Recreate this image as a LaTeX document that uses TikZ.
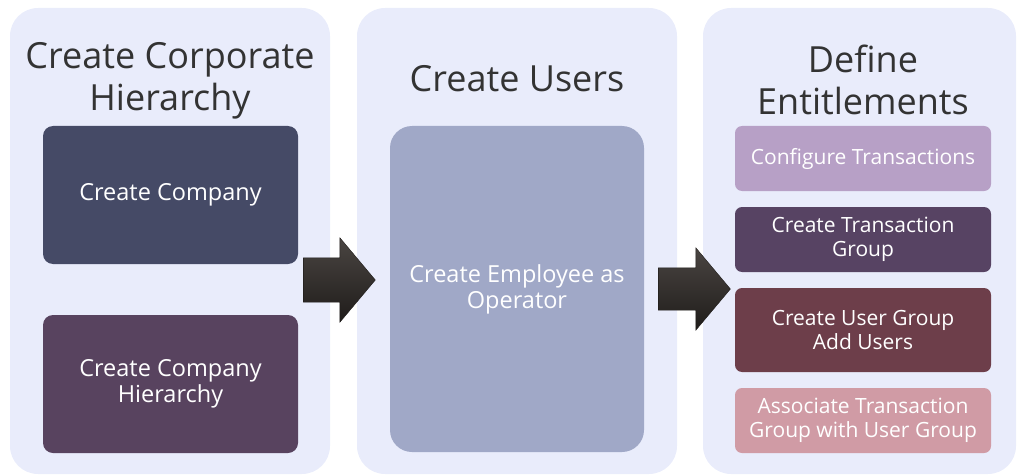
\documentclass[tikz,border=0pt]{standalone}
\usepackage{fontspec}
\setmainfont{Open Sans}
\usetikzlibrary{shapes.arrows}
\definecolor{panelbg}{HTML}{E9ECFB}
\definecolor{titlec}{HTML}{333333}
\definecolor{cA}{HTML}{454A66}
\definecolor{cB}{HTML}{58435F}
\definecolor{cC}{HTML}{A0A8C7}
\definecolor{cD}{HTML}{B7A0C6}
\definecolor{cE}{HTML}{574363}
\definecolor{cF}{HTML}{6D3E4A}
\definecolor{cG}{HTML}{D09BA5}
\definecolor{arrtop}{HTML}{4A4542}
\definecolor{arrbot}{HTML}{1F1C1A}
\tikzset{
  panel/.style={fill=panelbg, rounded corners=28pt, draw=none},
  title/.style={text=titlec, font=\fontsize{36}{42}\selectfont, align=center},
  bigbox/.style={rounded corners=10pt, text=white, align=center, font=\fontsize{23.5}{26}\selectfont},
  smallbox/.style={rounded corners=7pt, text=white, align=center, font=\fontsize{21}{24}\selectfont},
  blockarrow/.style={single arrow, draw=arrbot, line width=0.4pt, top color=arrtop, bottom color=arrbot,
     inner xsep=0pt, inner ysep=22pt, single arrow head extend=20pt, single arrow tip angle=100, minimum height=72pt}
}
\begin{document}
\begin{tikzpicture}[x=1pt,y=-1pt]
\useasboundingbox (0,0) rectangle (1019,476);
% panels
\fill[panel] (10,8) rectangle (330,474);
\fill[panel] (357,8) rectangle (677,474);
\fill[panel] (703,8) rectangle (1016,474);
% titles
\node[title] (t1) at (170,81) {Create Corporate\\Hierarchy};
\node[title] (t2) at (517,79) {Create Users};
\node[title] (t3) at (863,80) {Define\\Entitlements};
% panel 1 boxes
\fill[cA, rounded corners=10pt] (43,126) rectangle (298,264);
\node[bigbox] (b1) at (170.5,195) {Create Company};
\fill[cB, rounded corners=10pt] (43,315) rectangle (298,453);
\node[bigbox] (b2) at (170.5,384) {Create Company\\Hierarchy};
% panel 2 box
\fill[cC, rounded corners=22pt] (390,126) rectangle (644,452);
\node[bigbox] (b3) at (517,289) {Create Employee as\\Operator};
% panel 3 boxes
\fill[cD, rounded corners=7pt] (735,126) rectangle (991,191);
\node[smallbox] (c1) at (863,158.5) {Configure Transactions};
\fill[cE, rounded corners=7pt] (735,207) rectangle (991,272);
\node[smallbox] (c2) at (863,239.5) {Create Transaction\\Group};
\fill[cF, rounded corners=7pt] (735,288) rectangle (991,372);
\node[smallbox] (c3) at (863,330) {Create User Group\\Add Users};
\fill[cG, rounded corners=7pt] (735,388) rectangle (991,453);
\node[smallbox] (c4) at (863,420.5) {Associate Transaction\\Group with User Group};
% block arrows
\node[blockarrow] (a1) at (330,280) {};
\node[blockarrow, inner ysep=21pt] (a2) at (685.5,289) {};
\end{tikzpicture}
\end{document}
